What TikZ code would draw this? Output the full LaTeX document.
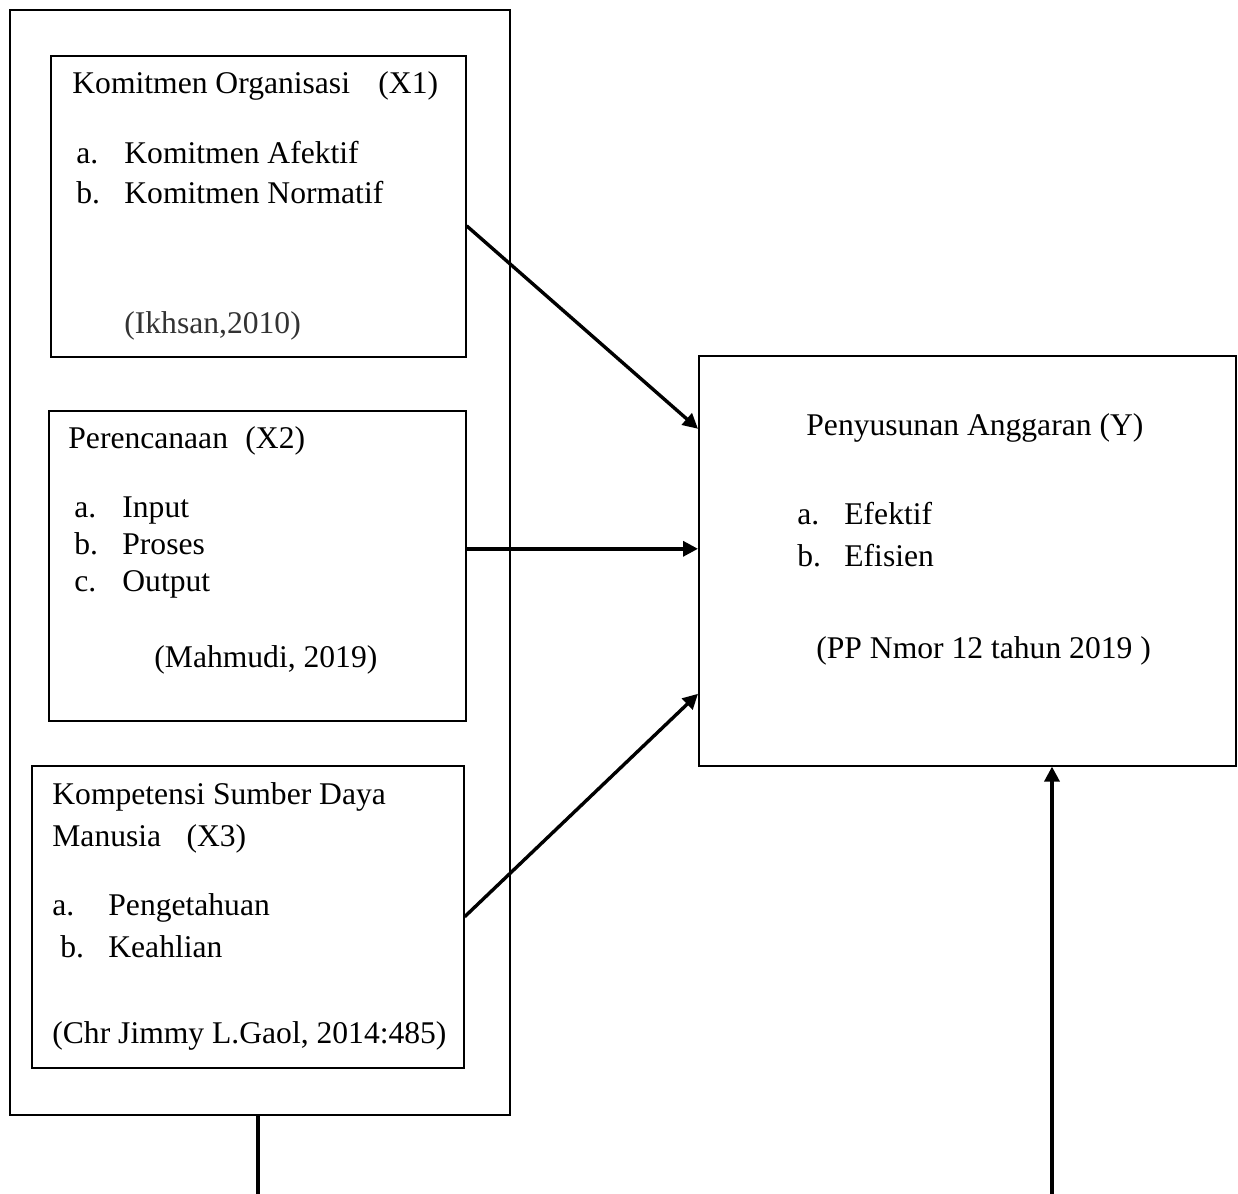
\documentclass[tikz,border=0pt]{standalone}
\usepackage{fontspec}
\setmainfont{Liberation Serif}
\usetikzlibrary{arrows.meta}

\begin{document}
\begin{tikzpicture}[x=0.5pt,y=-0.5pt]
        \tikzstyle{box}=[draw,line width=0.8pt,anchor=north west,inner sep=0pt]
        \tikzstyle{txt}=[anchor=base west,inner sep=0pt,font=\fontsize{15.8}{19}\selectfont]
        \tikzstyle{link}=[line width=1.7pt,-{Triangle[length=7.5pt,width=7.5pt]}]
        \useasboundingbox (0,0) rectangle (1238,1194);
        % boxes
        \node[box,minimum width=250pt,minimum height=552.5pt] (out) at (9,9) {};
        \node[box,minimum width=207.5pt,minimum height=150.5pt] (x1) at (50,55) {};
        \node[box,minimum width=208.5pt,minimum height=155pt] (x2) at (48,410) {};
        \node[box,minimum width=216pt,minimum height=151pt] (x3) at (31,765) {};
        \node[box,minimum width=268.5pt,minimum height=205pt] (y) at (698,355) {};
        % X1
        \node[txt] (x1head) at (72,93) {Komitmen Organisasi\hspace{0.65em} (X1)};
        \node[txt] (x1a) at (76,163) {a.};
        \node[txt] (x1ai) at (124,163) {Komitmen Afektif};
        \node[txt] (x1b) at (76,203) {b.};
        \node[txt] (x1bi) at (124,203) {Komitmen Normatif};
        \node[txt,text=black!80] (x1src) at (124,333) {(Ikhsan,2010)};
        % X2
        \node[txt] (x2head) at (68,448) {Perencanaan\hspace{0.3em} (X2)};
        \node[txt] (x2a) at (74,517) {a.};
        \node[txt] (x2ai) at (122,517) {Input};
        \node[txt] (x2b) at (74,554) {b.};
        \node[txt] (x2bi) at (122,554) {Proses};
        \node[txt] (x2c) at (74,591) {c.};
        \node[txt] (x2ci) at (122,591) {Output};
        \node[txt] (x2src) at (154,667) {(Mahmudi, 2019)};
        % X3
        \node[txt] (x3head) at (52,804) {Kompetensi Sumber Daya};
        \node[txt] (x3head2) at (52,846) {Manusia\hspace{0.55em} (X3)};
        \node[txt] (x3a) at (52,915) {a.};
        \node[txt] (x3ai) at (108,915) {Pengetahuan};
        \node[txt] (x3b) at (60,957) {b.};
        \node[txt] (x3bi) at (108,957) {Keahlian};
        \node[txt] (x3src) at (52,1043) {(Chr Jimmy L.Gaol, 2014:485)};
        % Y
        \node[txt] (yhead) at (806,435) {Penyusunan Anggaran (Y)};
        \node[txt] (ya) at (797,524) {a.};
        \node[txt] (yai) at (844,524) {Efektif};
        \node[txt] (yb) at (797,566) {b.};
        \node[txt] (ybi) at (844,566) {Efisien};
        \node[txt] (ysrc) at (816,658) {(PP Nmor 12 tahun 2019 )};
        % connectors
        \draw[link] ([yshift=-9.75pt]x1.east) -- ([yshift=66pt]y.west);
        \draw[link] ([yshift=8.5pt]x2.east) -- ([yshift=6pt]y.west);
        \draw[link] (x3.east) -- ([yshift=-66.5pt]y.west);
        \coordinate (lb) at (258,1194);
        \coordinate (rb) at (1052,1194);
        \draw[line width=1.7pt] (out.south -| lb) -- (lb);
        \draw[link] (rb) -- (rb |- y.south);
\end{tikzpicture}
\end{document}
